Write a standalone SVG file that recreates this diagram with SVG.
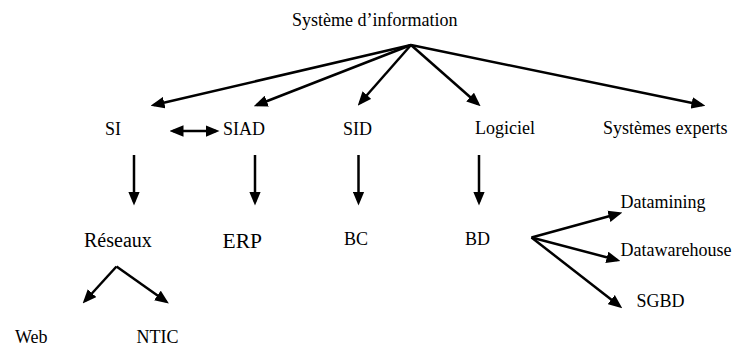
<svg xmlns="http://www.w3.org/2000/svg" width="735" height="347" viewBox="0 0 735 347">
<style>
text{font-family:"Liberation Serif","Times New Roman",serif;font-size:18px;fill:#000}
.c line{stroke:#000;stroke-width:2.5;fill:none;marker-end:url(#ah)}
</style>
<defs>
<marker id="ah" markerUnits="userSpaceOnUse" markerWidth="14" markerHeight="12" refX="9" refY="5" orient="auto-start-reverse" viewBox="0 0 12 10">
<path d="M0,0 L12,5 L0,10 Z" fill="#000"/>
</marker>
</defs>
<rect width="735" height="347" fill="#fff"/>
<g id="n-root"><text x="292" y="25.5">Système d’information</text></g>
<g id="n-si"><text x="105" y="135">SI</text></g>
<g id="n-siad"><text x="223" y="135">SIAD</text></g>
<g id="n-sid"><text x="343" y="135">SID</text></g>
<g id="n-logiciel"><text x="475" y="134">Logiciel</text></g>
<g id="n-se"><text x="603" y="134">Systèmes experts</text></g>
<g id="n-reseaux"><text x="84" y="247" style="font-size:20px">Réseaux</text></g>
<g id="n-erp"><text x="222.5" y="248" style="font-size:21.5px">ERP</text></g>
<g id="n-bc"><text x="344" y="245">BC</text></g>
<g id="n-bd"><text x="465" y="245">BD</text></g>
<g id="n-web"><text x="15" y="343">Web</text></g>
<g id="n-ntic"><text x="136.5" y="343">NTIC</text></g>
<g id="n-datamining"><text x="620.5" y="208">Datamining</text></g>
<g id="n-dw"><text x="620.5" y="256">Datawarehouse</text></g>
<g id="n-sgbd"><text x="636.5" y="307">SGBD</text></g>
<g class="c" id="connectors">
<line x1="411" y1="45" x2="154" y2="105"/>
<line x1="411" y1="45" x2="257" y2="105"/>
<line x1="411" y1="45" x2="360" y2="103"/>
<line x1="411" y1="45" x2="478" y2="104"/>
<line x1="411" y1="45" x2="702" y2="105"/>
<line x1="173" y1="131" x2="216" y2="131" style="marker-start:url(#ah)"/>
<line x1="134" y1="155" x2="134" y2="202"/>
<line x1="255" y1="155" x2="255" y2="202"/>
<line x1="358.5" y1="155" x2="358.5" y2="202"/>
<line x1="479" y1="155" x2="479" y2="202"/>
<line x1="116.5" y1="266.5" x2="85" y2="301"/>
<line x1="116.5" y1="266.5" x2="166" y2="301.5"/>
<line x1="531.5" y1="237.5" x2="619" y2="213.5"/>
<line x1="531.5" y1="237.5" x2="617" y2="260"/>
<line x1="531.5" y1="237.5" x2="619.5" y2="306"/>
</g>
</svg>
